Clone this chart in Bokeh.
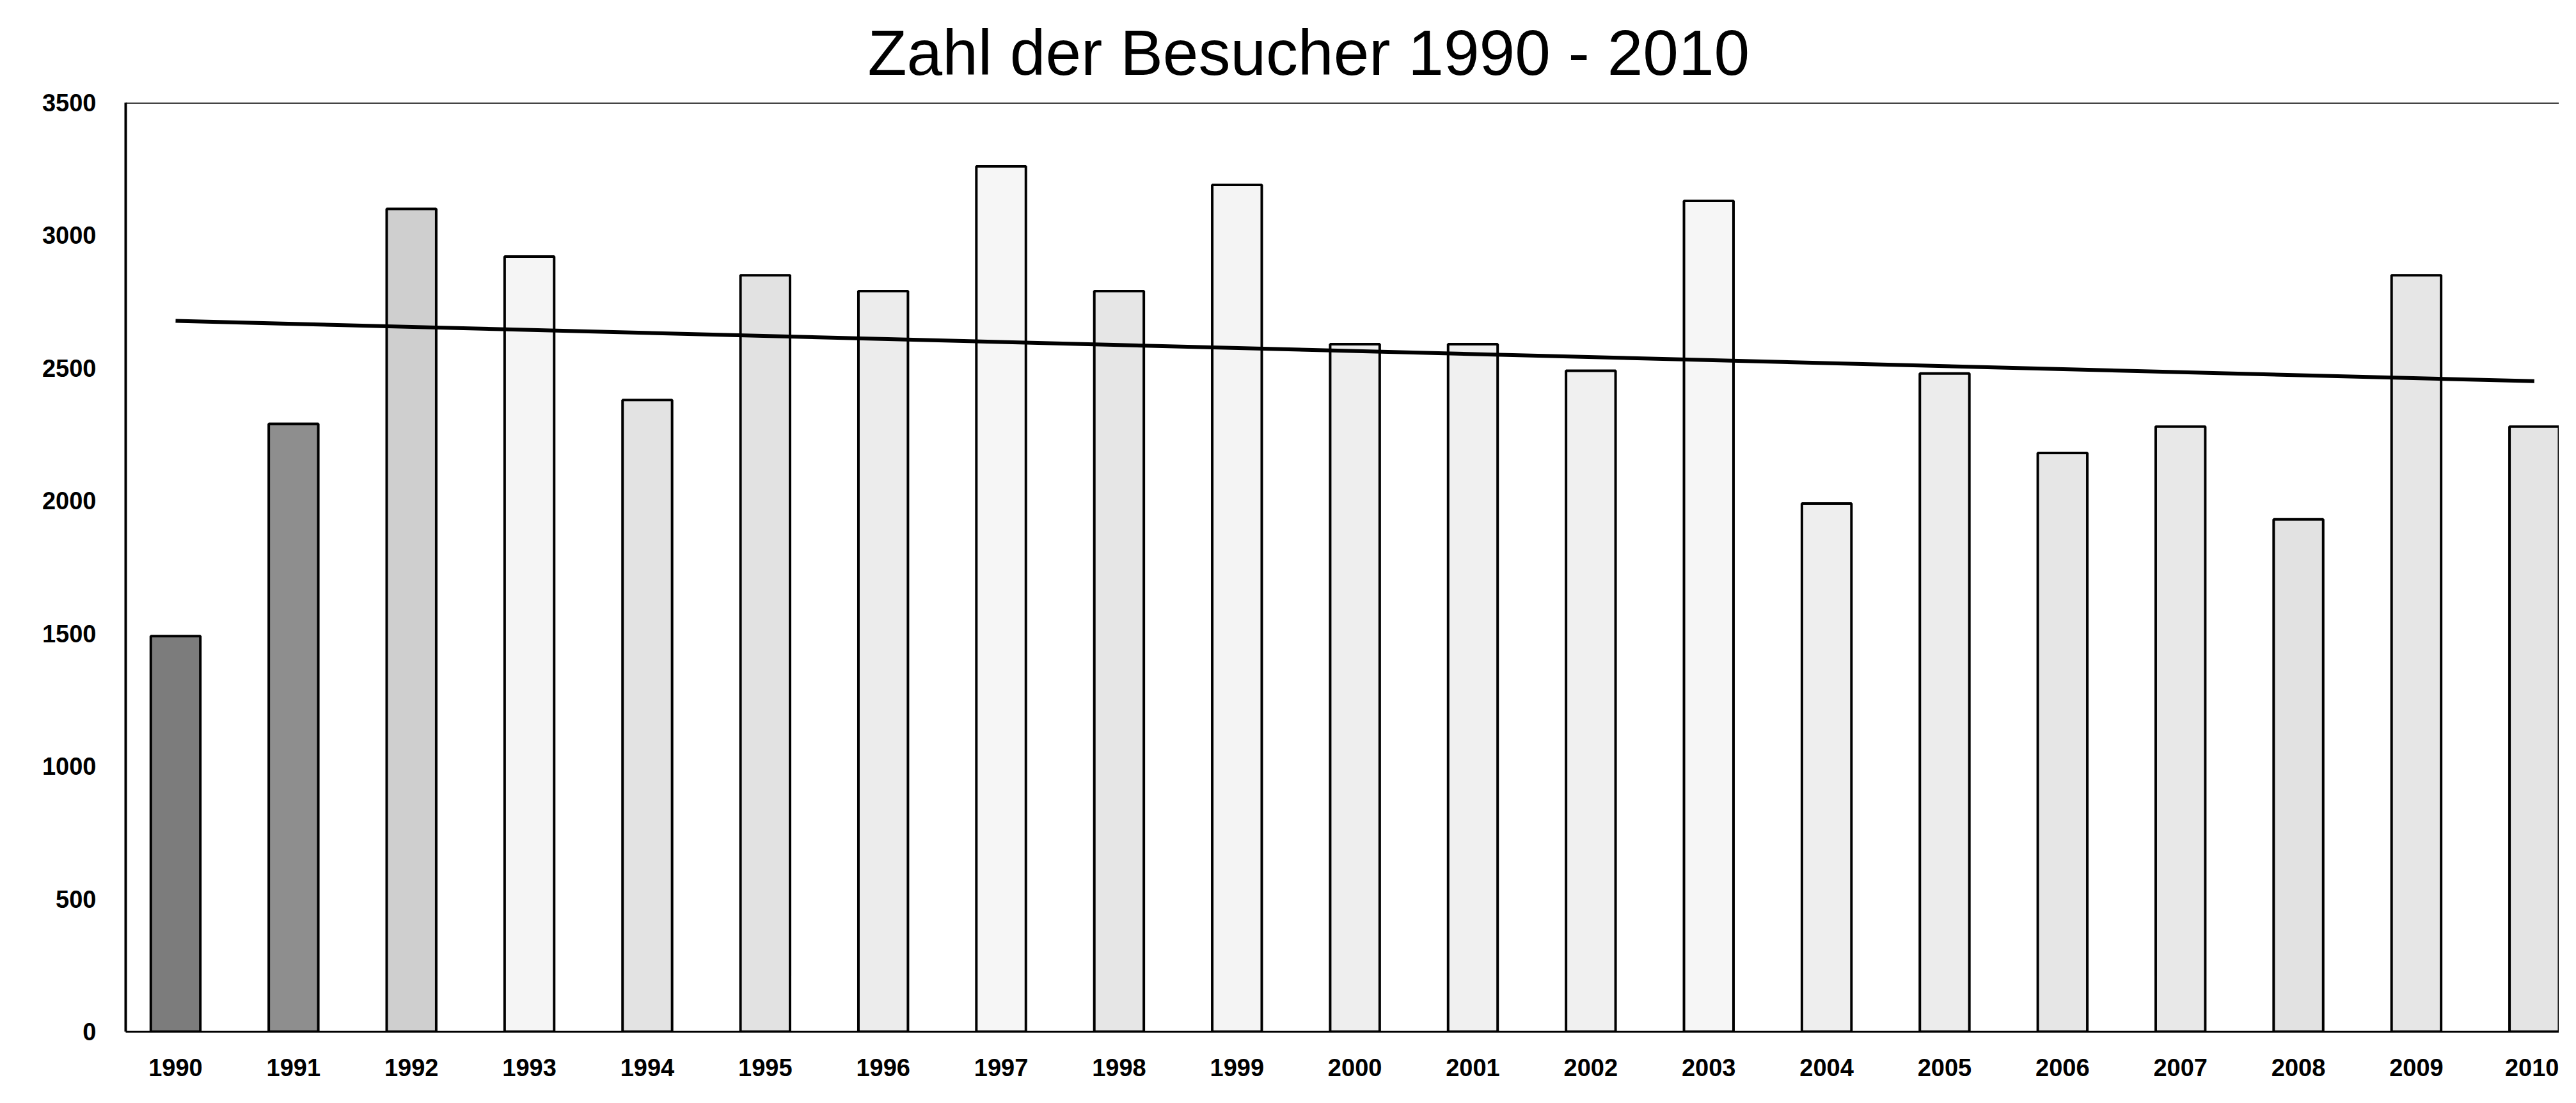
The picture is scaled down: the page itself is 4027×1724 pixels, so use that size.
import numpy as np
from bokeh.plotting import figure
from bokeh.models import Range1d, FixedTicker, Span, ColumnDataSource
from bokeh.embed import file_html
from bokeh.resources import INLINE

# ---- data ----
title_text = "Zahl der Besucher 1990 - 2010"
years = [1990, 1991, 1992, 1993, 1994, 1995, 1996, 1997, 1998, 1999, 2000,
         2001, 2002, 2003, 2004, 2005, 2006, 2007, 2008, 2009, 2010]
visitors = [1490, 2290, 3100, 2920, 2380, 2850, 2790, 3260, 2790, 3190, 2590,
            2590, 2490, 3130, 1990, 2480, 2180, 2280, 1930, 2850, 2280]
y_ticks = [0, 500, 1000, 1500, 2000, 2500, 3000, 3500]

# ---- style ----
fills = ["#7c7c7c", "#8e8e8e", "#cfcfcf", "#f5f5f5", "#e3e3e3", "#e2e2e2",
         "#ececec", "#f6f6f6", "#e6e6e6", "#f4f4f4", "#eeeeee", "#f0f0f0",
         "#f0f0f0", "#f6f6f6", "#eeeeee", "#ececec", "#e6e6e6", "#e8e8e8",
         "#e2e2e2", "#e6e6e6", "#e4e4e4"]

src = ColumnDataSource(dict(x=years, top=visitors, fill=fills))

p = figure(width=4000, height=1708, output_backend="svg", toolbar_location=None,
           x_range=Range1d(1989.577, 2010.21), y_range=Range1d(0, 3500),
           min_border_left=196, min_border_right=0, min_border_top=160,
           min_border_bottom=96)

p.title.text = title_text
p.title.text_font = "Liberation Sans"
p.title.text_font_size = "100px"
p.title.text_font_style = "normal"
p.title.text_color = "black"
p.title.align = "left"
p.title.offset = 1160
p.title.standoff = 46

p.vbar(x="x", top="top", bottom=0, width=0.42, source=src,
       fill_color="fill", line_color="black", line_width=4)

# linear trend line (least-squares fit of the series)
coef = np.polyfit(years, visitors, 1)
tx = [years[0], years[-1]]
ty = [float(np.polyval(coef, v)) for v in tx]
p.line(tx, ty, line_color="black", line_width=6)

p.outline_line_color = None
p.add_layout(Span(location=3500, dimension="width", line_color="black", line_width=3))

p.xgrid.grid_line_color = None
p.ygrid.grid_line_color = None

p.xaxis.ticker = FixedTicker(ticks=years)
p.yaxis.ticker = FixedTicker(ticks=y_ticks)

for ax in (p.xaxis[0], p.yaxis[0]):
    ax.major_label_text_font = "Liberation Sans"
    ax.major_label_text_font_style = "bold"
    ax.major_label_text_font_size = "38px"
    ax.major_label_text_color = "black"
    ax.major_tick_line_color = None
    ax.minor_tick_line_color = None
    ax.axis_line_color = "black"

p.yaxis.axis_line_width = 4
p.xaxis.axis_line_width = 3
p.yaxis.major_label_standoff = 40
p.xaxis.major_label_standoff = 36

p.background_fill_color = "white"
p.border_fill_color = "white"

open("out.html", "w").write(file_html(p, INLINE))
